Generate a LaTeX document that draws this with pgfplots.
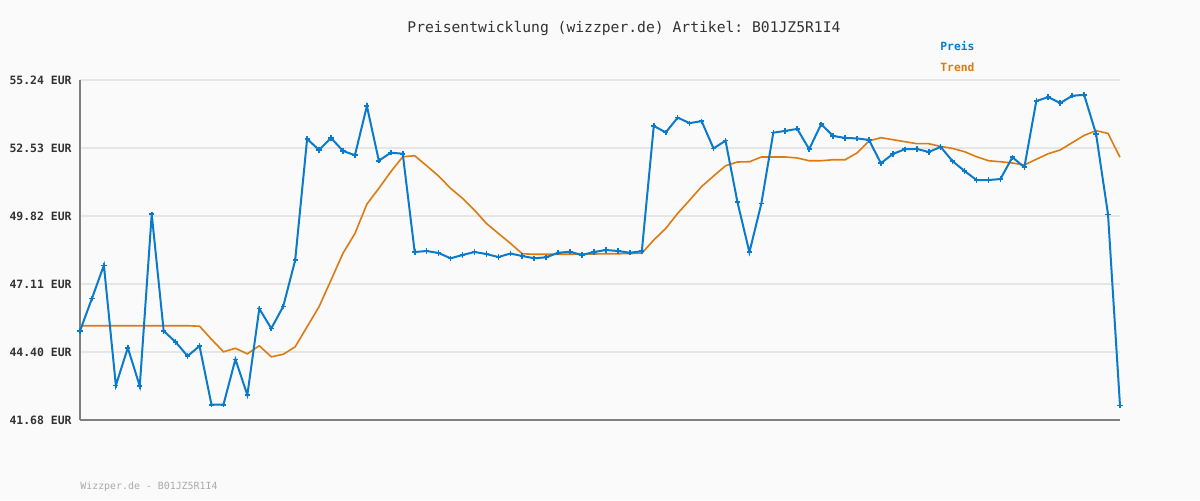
\documentclass[border=0pt]{standalone}
\usepackage{pgfplots}
\pgfplotsset{compat=1.18}
\usepackage{fontspec}
\setmonofont{DejaVu Sans Mono}
\definecolor{bgc}{HTML}{FAFAFA}
\definecolor{preis}{HTML}{0A7ACC}
\definecolor{trend}{HTML}{DD7A10}
\definecolor{gridc}{HTML}{E6E6E6}
\definecolor{axc}{HTML}{808080}
\definecolor{txt}{HTML}{333333}
\definecolor{foot}{HTML}{AAAAAA}
\begin{document}
\begin{tikzpicture}
\fill[bgc] (0pt,0pt) rectangle (600pt,250pt);
\begin{axis}[
  at={(40pt,40pt)}, anchor=south west,
  scale only axis, width=520pt, height=170pt,
  xmin=0, xmax=87, ymin=41.68, ymax=55.24,
  clip=false,
  axis x line*=bottom, axis y line*=left,
  axis line style={-, draw=axc, line width=0.7pt},
  xtick=\empty,
  ytick={41.68,44.392,47.104,49.816,52.528,55.24},
  yticklabels={41.68 EUR,44.40 EUR,47.11 EUR,49.82 EUR,52.53 EUR,55.24 EUR},
  major tick length=0pt,
  yticklabel style={font=\ttfamily\bfseries\fontsize{5.73}{6}\selectfont, text=txt, inner sep=0pt, xshift=-4pt},
  ymajorgrids, major grid style={draw=gridc, line width=1pt},
]
\addplot[trend, line width=0.8pt] coordinates {
(0,45.44)(1,45.44)(2,45.44)(3,45.44)(4,45.44)(5,45.44)(6,45.44)(7,45.44)(8,45.44)(9,45.44)
(10,45.42)(11,44.90)(12,44.40)(13,44.54)(14,44.32)(15,44.64)(16,44.20)(17,44.30)(18,44.60)(19,45.40)
(20,46.20)(21,47.26)(22,48.33)(23,49.12)(24,50.29)(25,50.92)(26,51.58)(27,52.18)(28,52.22)(29,51.82)
(30,51.41)(31,50.92)(32,50.52)(33,50.05)(34,49.52)(35,49.12)(36,48.73)(37,48.31)(38,48.29)(39,48.29)
(40,48.29)(41,48.29)(42,48.30)(43,48.30)(44,48.31)(45,48.31)(46,48.32)(47,48.33)(48,48.86)(49,49.32)
(50,49.92)(51,50.45)(52,50.99)(53,51.41)(54,51.82)(55,51.97)(56,51.98)(57,52.17)(58,52.17)(59,52.17)
(60,52.13)(61,52.02)(62,52.02)(63,52.06)(64,52.06)(65,52.33)(66,52.81)(67,52.94)(68,52.86)(69,52.78)
(70,52.70)(71,52.70)(72,52.59)(73,52.51)(74,52.38)(75,52.18)(76,52.02)(77,51.98)(78,51.93)(79,51.85)
(80,52.08)(81,52.30)(82,52.45)(83,52.74)(84,53.03)(85,53.22)(86,53.11)(87,52.16)
};
\addplot[preis, line width=1pt, mark=+, mark size=1.3pt, mark options={line width=0.8pt}] coordinates {
(0,45.23)(1,46.53)(2,47.85)(3,43.06)(4,44.56)(5,43.03)(6,49.89)(7,45.23)(8,44.79)(9,44.23)
(10,44.63)(11,42.29)(12,42.29)(13,44.10)(14,42.68)(15,46.12)(16,45.33)(17,46.21)(18,48.05)(19,52.89)
(20,52.45)(21,52.93)(22,52.41)(23,52.24)(24,54.20)(25,52.02)(26,52.34)(27,52.30)(28,48.38)(29,48.42)
(30,48.34)(31,48.13)(32,48.26)(33,48.38)(34,48.30)(35,48.18)(36,48.32)(37,48.22)(38,48.13)(39,48.17)
(40,48.35)(41,48.39)(42,48.26)(43,48.38)(44,48.46)(45,48.42)(46,48.35)(47,48.41)(48,53.41)(49,53.15)
(50,53.74)(51,53.52)(52,53.60)(53,52.51)(54,52.82)(55,50.37)(56,48.37)(57,50.32)(58,53.14)(59,53.21)
(60,53.29)(61,52.48)(62,53.48)(63,53.01)(64,52.93)(65,52.91)(66,52.85)(67,51.92)(68,52.29)(69,52.48)
(70,52.49)(71,52.37)(72,52.57)(73,52.00)(74,51.61)(75,51.25)(76,51.25)(77,51.29)(78,52.16)(79,51.76)
(80,54.40)(81,54.56)(82,54.32)(83,54.61)(84,54.65)(85,53.09)(86,49.88)(87,42.26)
};
\end{axis}
\node[text=txt, font=\ttfamily\fontsize{7.34}{8}\selectfont] at (312pt,236pt) {Preisentwicklung (wizzper.de) Artikel: B01JZ5R1I4};
\node[anchor=west, inner sep=0pt, text=preis, font=\ttfamily\bfseries\fontsize{5.65}{6}\selectfont] at (470pt,227pt) {Preis};
\node[anchor=west, inner sep=0pt, text=trend, font=\ttfamily\bfseries\fontsize{5.65}{6}\selectfont] at (470pt,216.5pt) {Trend};
\node[anchor=west, inner sep=0pt, text=foot, font=\ttfamily\fontsize{4.95}{5}\selectfont] at (40pt,6.5pt) {Wizzper.de - B01JZ5R1I4};
\end{tikzpicture}
\end{document}
